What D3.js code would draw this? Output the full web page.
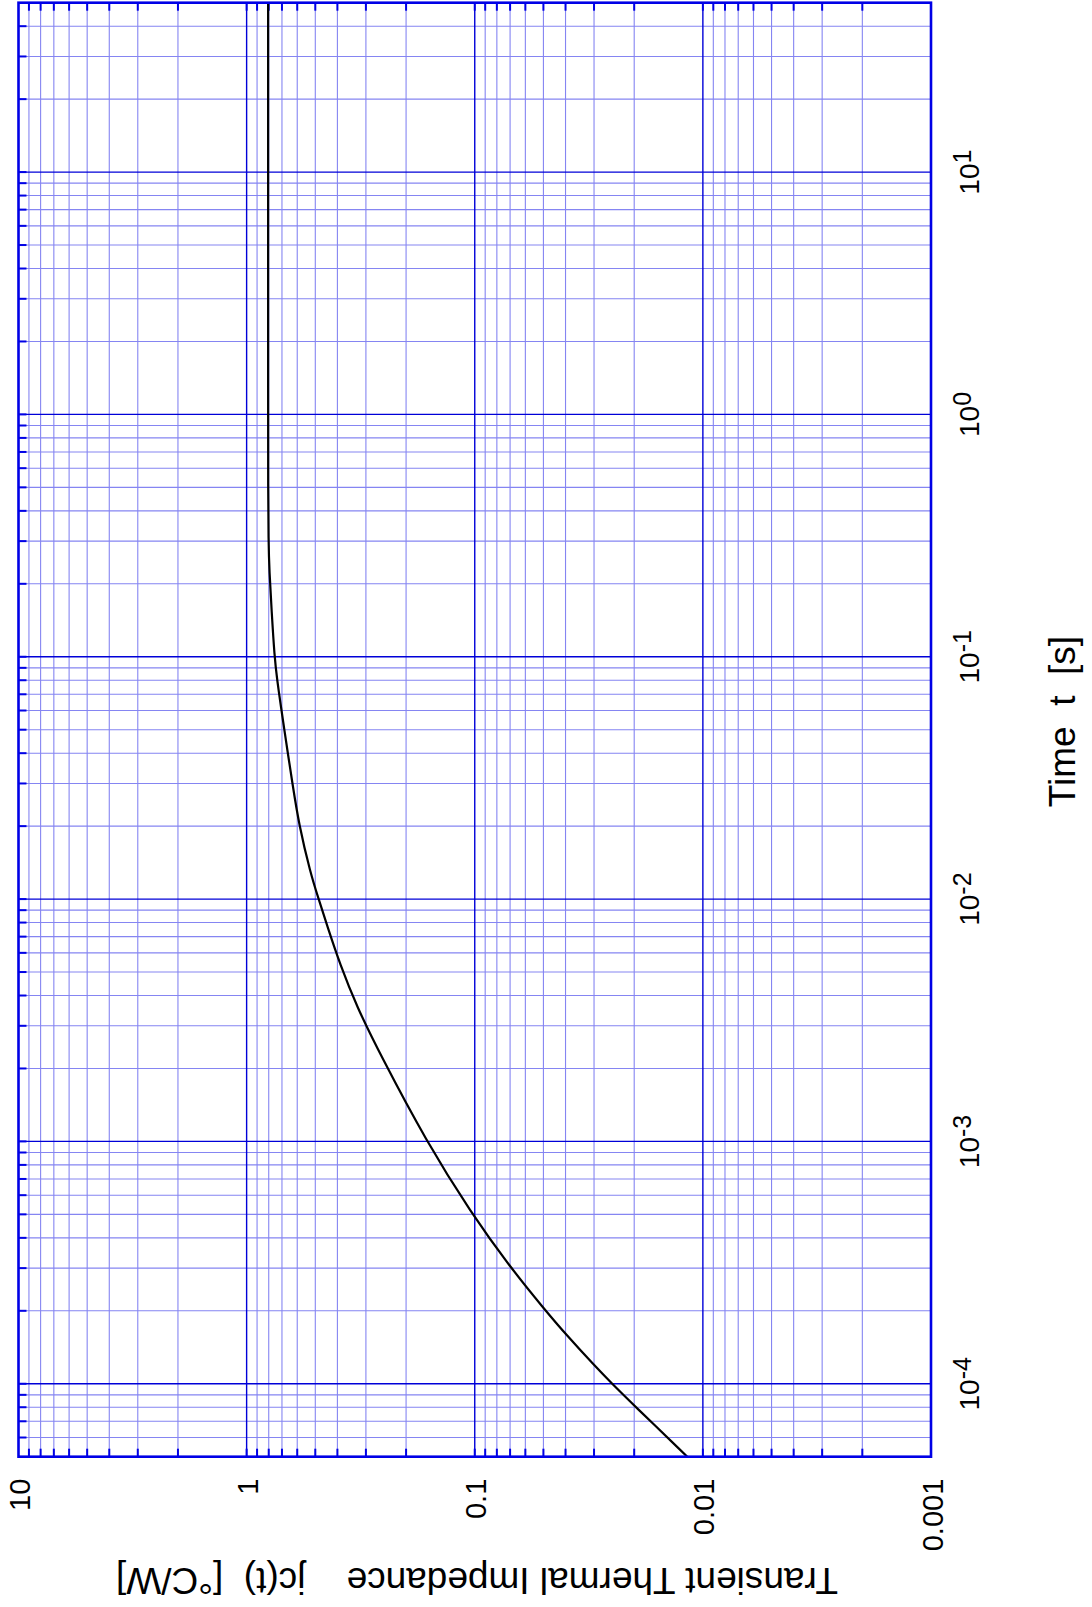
<!DOCTYPE html>
<html><head><meta charset="utf-8">
<script src="https://cdn.jsdelivr.net/npm/d3@7"></script>
<style>body{margin:0;background:#fff} svg{display:block}</style>
</head><body>
<svg id="chart" width="1092" height="1607"></svg>
<script>
// ---- data ----
const timeValues = [5e-5, 8.17e-5, 1.0e-4, 1.19e-4, 1.6e-4, 2.03e-4, 3.02e-4, 5.09e-4, 1e-3, 2.29e-3, 3.6e-3, 5.4e-3, 7.59e-3, 0.0101, 0.0128, 0.0203, 0.0301, 0.0401, 0.0503, 0.0604, 0.0803, 0.1, 0.155, 0.225, 0.3, 0.5, 1, 10, 50];
const impedanceValues = [0.0117, 0.0201, 0.025, 0.0299, 0.0399, 0.0495, 0.0698, 0.104, 0.163, 0.260, 0.329, 0.390, 0.440, 0.485, 0.525, 0.590, 0.630, 0.660, 0.684, 0.704, 0.735, 0.755, 0.777, 0.795, 0.802, 0.805, 0.805, 0.805, 0.805];
const timeDomain = [5e-5, 50];
const impedanceDomain = [0.001, 10];
const timeTickValues = [1e-4, 1e-3, 1e-2, 1e-1, 1, 10];
const timeTickExponents = ["-4", "-3", "-2", "-1", "0", "1"];
const impedanceTickValues = [10, 1, 0.1, 0.01, 0.001];
const impedanceTickLabels = ["10", "1", "0.1", "0.01", "0.001"];
const xTitle = "Time  t  [s]";
const yTitle = "Transient Thermal Impedance    jc(t)  [°C/W]";

// ---- layout ----
const W = 1092, H = 1607;
const FONT = "'Liberation Sans', Arial, Helvetica, sans-serif";
const svg = d3.select("#chart");
svg.append("rect").attr("width", W).attr("height", H).attr("fill", "#fff");

// The whole chart is drawn in normal orientation and turned 90° counter-clockwise.
const g = svg.append("g").attr("transform", `translate(0,${H}) rotate(-90)`);
const pL = 150.3, pR = 1604.3, pT = 18.5, pB = 931;

const x = d3.scaleLog().domain(timeDomain).range([pL, pR]);
const y = d3.scaleLog().domain(impedanceDomain).range([pB, pT]);

const isMajor = v => Math.abs(Math.log10(v) - Math.round(Math.log10(v))) < 1e-9;
const xTicks = x.ticks().filter(v => v > timeDomain[0] * 1.0001 && v < timeDomain[1] * 0.9999);
const yTicks = y.ticks().filter(v => v > impedanceDomain[0] * 1.0001 && v < impedanceDomain[1] * 0.9999);

const MINOR = "#8585f2", MAJOR = "#0000d8", FRAME = "#0000e6";

// minor grid
g.append("g").selectAll("line").data(xTicks.filter(v => !isMajor(v))).join("line")
  .attr("x1", d => x(d)).attr("x2", d => x(d)).attr("y1", pT).attr("y2", pB)
  .attr("stroke", MINOR).attr("stroke-width", 1.1);
g.append("g").selectAll("line").data(yTicks.filter(v => !isMajor(v))).join("line")
  .attr("y1", d => y(d)).attr("y2", d => y(d)).attr("x1", pL).attr("x2", pR)
  .attr("stroke", MINOR).attr("stroke-width", 1.1);
// major grid
g.append("g").selectAll("line").data(xTicks.filter(isMajor)).join("line")
  .attr("x1", d => x(d)).attr("x2", d => x(d)).attr("y1", pT).attr("y2", pB)
  .attr("stroke", MAJOR).attr("stroke-width", 1.4);
g.append("g").selectAll("line").data(yTicks.filter(isMajor)).join("line")
  .attr("y1", d => y(d)).attr("y2", d => y(d)).attr("x1", pL).attr("x2", pR)
  .attr("stroke", MAJOR).attr("stroke-width", 1.4);

// inward tick marks (top for time; left & right for impedance)
const TL = 8;
g.append("g").selectAll("line").data(xTicks).join("line")
  .attr("x1", d => x(d)).attr("x2", d => x(d)).attr("y1", pT).attr("y2", pT + TL)
  .attr("stroke", FRAME).attr("stroke-width", 2);
g.append("g").selectAll("line").data(yTicks).join("line")
  .attr("y1", d => y(d)).attr("y2", d => y(d)).attr("x1", pL).attr("x2", pL + TL)
  .attr("stroke", FRAME).attr("stroke-width", 2);
g.append("g").selectAll("line").data(yTicks).join("line")
  .attr("y1", d => y(d)).attr("y2", d => y(d)).attr("x1", pR - TL).attr("x2", pR)
  .attr("stroke", FRAME).attr("stroke-width", 2);

// curve
const pts = timeValues.map((t, i) => [t, impedanceValues[i]]);
g.append("path").datum(pts)
  .attr("d", d3.line().x(d => x(d[0])).y(d => y(d[1])).curve(d3.curveBasis))
  .attr("fill", "none").attr("stroke", "#000").attr("stroke-width", 2.2);

// frame
g.append("rect").attr("x", pL).attr("y", pT).attr("width", pR - pL).attr("height", pB - pT)
  .attr("fill", "none").attr("stroke", FRAME).attr("stroke-width", 2.6);

// impedance tick labels
g.append("g").selectAll("text").data(impedanceTickValues).join("text")
  .attr("x", pL - 22).attr("y", d => y(d)).attr("dy", "0.4em")
  .attr("text-anchor", "end").attr("font-family", FONT).attr("font-size", 29).attr("fill", "#000")
  .text((d, i) => impedanceTickLabels[i]);

// time tick labels (10 with superscript exponent)
const tl = g.append("g").selectAll("text").data(timeTickValues).join("text")
  .attr("x", d => x(d)).attr("y", pB + 48)
  .attr("text-anchor", "middle").attr("font-family", FONT).attr("font-size", 28).attr("fill", "#000");
tl.append("tspan").text("10");
tl.append("tspan").attr("dy", -8).attr("font-size", 25).text((d, i) => timeTickExponents[i]);

// axis titles
g.append("text").attr("x", 885.5).attr("y", 1074.5)
  .attr("text-anchor", "middle").attr("font-family", FONT).attr("font-size", 37).attr("fill", "#000")
  .style("white-space", "pre").text(xTitle);
g.append("text").attr("transform", `translate(39,477) rotate(-90)`)
  .attr("text-anchor", "middle").attr("font-family", FONT).attr("font-size", 37).attr("fill", "#000")
  .style("white-space", "pre").text(yTitle);
</script>
</body></html>
